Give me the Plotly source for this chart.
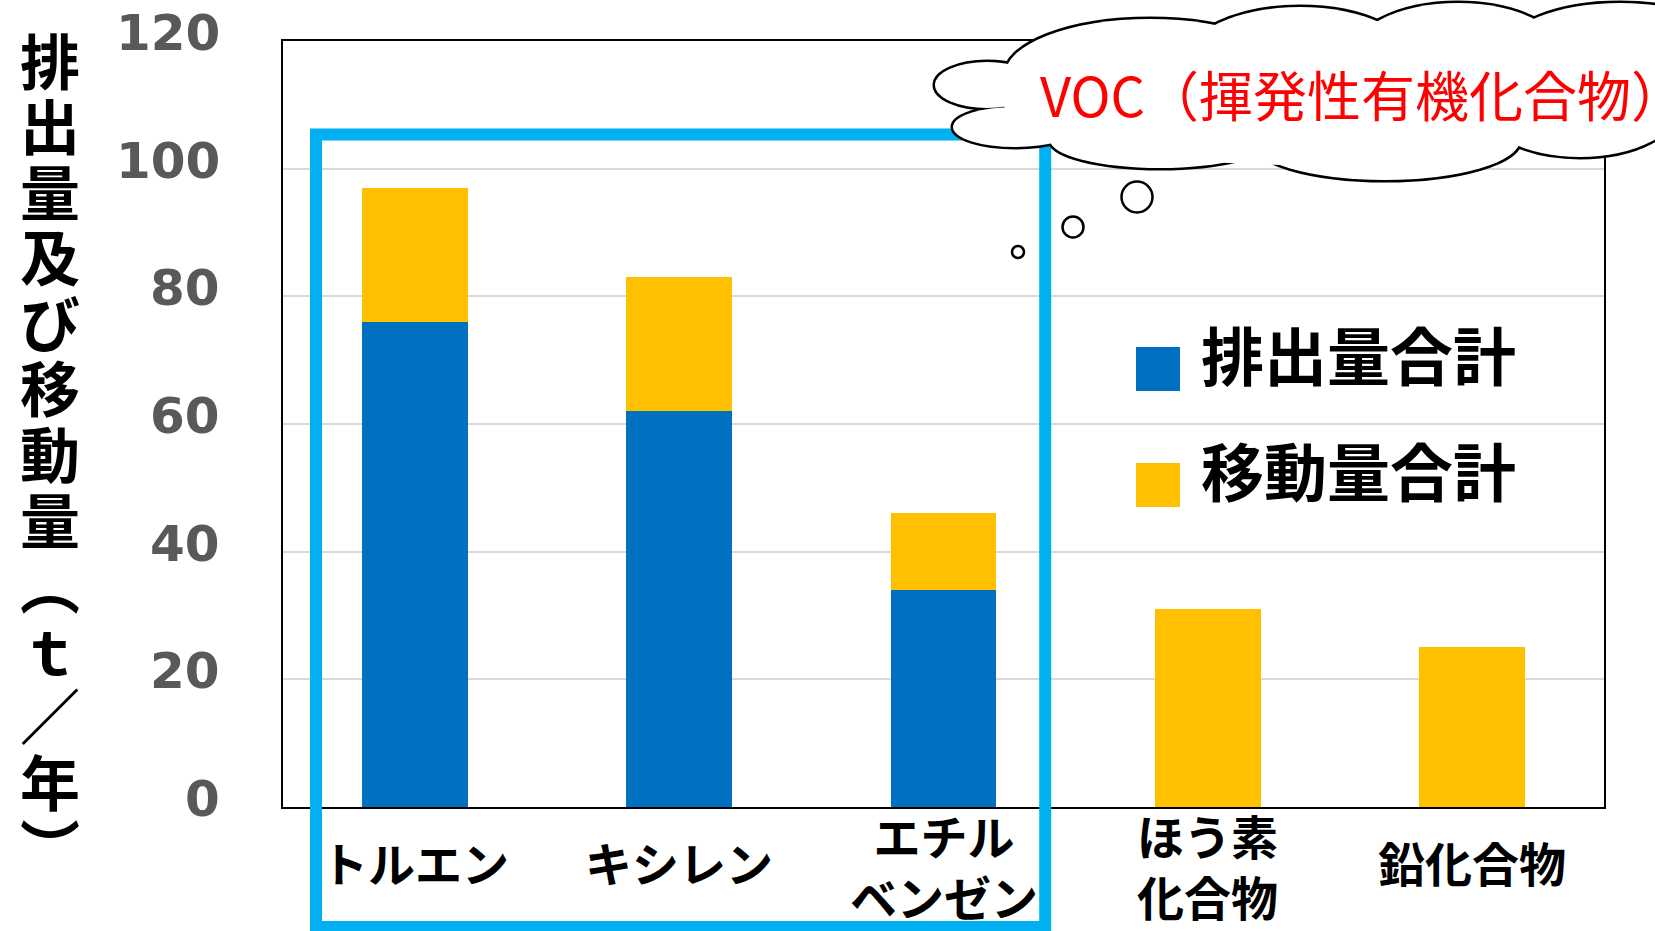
import plotly.graph_objects as go

# ---------------- data ----------------
categories = ["トルエン", "キシレン", "エチル<br>ベンゼン", "ほう素<br>化合物", "鉛化合物"]
emission_name = "排出量合計"
transfer_name = "移動量合計"
emission = [76, 62, 34, 0, 0]
transfer = [21, 21, 12, 31, 25]
y_ticks = [0, 20, 40, 60, 80, 100, 120]
y_title = ["排", "出", "量", "及", "び", "移", "動", "量", "︵", "ｔ", "／", "年", "︶"]
voc_label = "VOC（揮発性有機化合物）"
voc_count = 3  # first three categories are VOC

BLUE = "#0070C0"
YELLOW = "#FFC000"
CJK = "Noto Sans CJK JP"

W, H = 1655, 931
PL, PR, PT, PB = 283, 1604, 41, 807  # plot area on screen


def px(x):
    return (x - PL) / (PR - PL)


def py(y):
    return (PB - y) / (PB - PT)


def cat_paper(i):
    return (i + 0.5) / len(categories)


fig = go.Figure()
fig.add_trace(go.Bar(x=list(range(len(categories))), y=emission, name=emission_name,
                     marker=dict(color=BLUE, line=dict(width=0))))
fig.add_trace(go.Bar(x=list(range(len(categories))), y=transfer, name=transfer_name,
                     marker=dict(color=YELLOW, line=dict(width=0))))

fig.update_layout(
    width=W, height=H,
    margin=dict(l=PL, r=W - PR, t=PT, b=H - PB),
    barmode="stack", bargap=0.6,
    showlegend=False,
    plot_bgcolor="white", paper_bgcolor="white",
    xaxis=dict(range=[-0.5, len(categories) - 0.5], showticklabels=False, ticks="",
               showgrid=False, showline=True, mirror=True, linecolor="black", linewidth=2,
               zeroline=False, fixedrange=True),
    yaxis=dict(range=[0, 120], tickvals=y_ticks, showticklabels=False, ticks="",
               showgrid=True, gridcolor="#d9d9d9", gridwidth=2,
               showline=True, mirror=True, linecolor="black", linewidth=2,
               zeroline=False, fixedrange=True),
)

annotations = []
shapes = []

# y tick labels
for v in y_ticks:
    annotations.append(dict(x=px(222), y=v, xref="paper", yref="y", text=f"<b>{v}</b>",
                            showarrow=False, xanchor="right", yanchor="middle", yshift=8,
                            font=dict(family="DejaVu Sans", size=50, color="#595959")))

# vertical y-axis title
n = len(y_title)
for i, ch in enumerate(y_title):
    yc = 58 + i * (845 - 58) / (n - 1)
    annotations.append(dict(x=px(50), y=py(yc), xref="paper", yref="paper", text=f"<b>{ch}</b>",
                            showarrow=False, xanchor="center", yanchor="middle",
                            font=dict(family=CJK, size=60, color="black")))

# category labels
for i, c in enumerate(categories):
    lines = c.count("<br>") + 1
    annotations.append(dict(x=cat_paper(i), y=py(861 if lines == 1 else 865),
                            xref="paper", yref="paper",
                            text=f"<b>{c}</b>", showarrow=False, xanchor="center",
                            yanchor="middle",
                            font=dict(family=CJK, size=47, color="black")))

# blue VOC frame
shapes.append(dict(type="rect", xref="paper", yref="paper",
                   x0=cat_paper(-0.375), x1=cat_paper(voc_count - 1 + 0.385),
                   y0=py(927), y1=py(134.5),
                   line=dict(color="#00B0F0", width=12), fillcolor="rgba(0,0,0,0)", layer="above"))

# cloud callout
cloud = [
    (987, 85, 52, 23),
    (1015, 127, 62, 20),
    (1160, 140, 110, 28),
    (1385, 140, 135, 40),
    (1580, 105, 100, 52),
    (1670, 70, 55, 55),
    (1620, 50, 115, 47),
    (1458, 60, 110, 57),
    (1300, 62, 115, 55),
    (1150, 75, 145, 56),
]


def ell(cx, cy, rx, ry, **kw):
    return dict(type="circle", xref="paper", yref="paper",
                x0=px(cx - rx), x1=px(cx + rx), y0=py(cy + ry), y1=py(cy - ry),
                layer="above", **kw)


for e in cloud:
    shapes.append(ell(*e, line=dict(color="black", width=5), fillcolor="white"))
for e in cloud + [(1300, 95, 300, 70)]:
    shapes.append(ell(*e, line=dict(width=0), fillcolor="white"))
for b in [(1018, 252, 6, 6), (1073, 227, 10.5, 10.5), (1137, 197, 15.5, 15.5)]:
    shapes.append(ell(*b, line=dict(color="black", width=2.5), fillcolor="white"))

annotations.append(dict(x=px(1038), y=py(93), xref="paper", yref="paper", text=voc_label,
                        showarrow=False, xanchor="left", yanchor="middle",
                        font=dict(family=CJK, size=54, color="#FF0000")))

# legend (manual, large swatches)
for k, (name, color) in enumerate([(emission_name, BLUE), (transfer_name, YELLOW)]):
    sy = 369 + k * 116
    shapes.append(dict(type="rect", xref="paper", yref="paper",
                       x0=px(1136), x1=px(1180), y0=py(sy + 22), y1=py(sy - 22),
                       line=dict(width=0), fillcolor=color, layer="above"))
    annotations.append(dict(x=px(1199), y=py(sy - 17), xref="paper", yref="paper",
                            text=f"<b>{name}</b>", showarrow=False, xanchor="left",
                            yanchor="middle", font=dict(family=CJK, size=63, color="black")))

fig.update_layout(shapes=shapes, annotations=annotations)
fig.write_html("out.html", config={"displayModeBar": False},
               post_script="document.body.style.margin='0';document.body.style.overflow='hidden';")
